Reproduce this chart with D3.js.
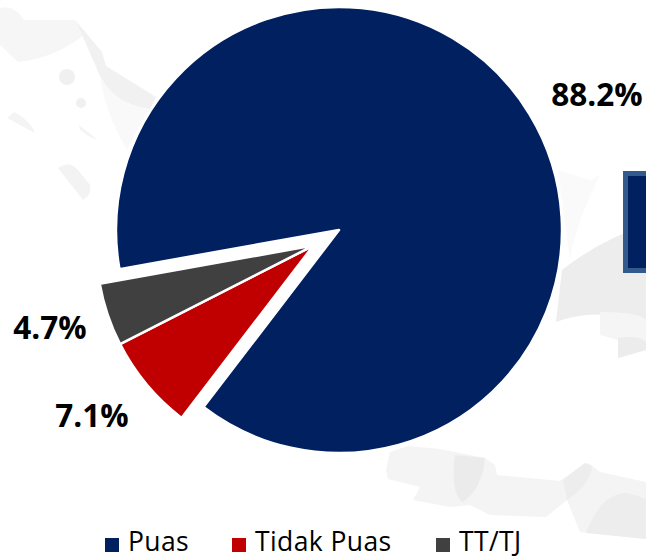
<!DOCTYPE html>
<html>
<head>
<meta charset="utf-8">
<script src="https://cdn.jsdelivr.net/npm/d3@7"></script>
<style>
  html, body { margin: 0; padding: 0; background: #fff; }
  svg { display: block; }
  text { font-family: "Open Sans", sans-serif; fill: #000; }
</style>
</head>
<body>
<script>
// chart data
var categories = ["Puas", "Tidak Puas", "TT/TJ"];
var values = [88.2, 7.1, 4.7];
var labels = ["88.2%", "7.1%", "4.7%"];
var colors = ["#002060", "#C00000", "#404040"];

var w = 646;
var h = 559;

var svg = d3.select("body")
    .append("svg")
    .attr("width", w)
    .attr("height", h);

// faint map behind the chart
var mapShapes = [
    ["M0,8 Q14,4 24,20 L75,20 L84,35 Q55,58 18,62 L0,45 Z", "#f6f6f6"],
    ["M76,21 L102,52 L106,66 L156,97 L150,109 Q115,105 100,76 Z", "#f1f1f1"],
    ["M82,36 L100,76 Q104,110 127,150 L140,125 L150,109 Q115,105 100,76 Z", "#f9f9f9"],
    ["M7,118 L14,112 Q30,120 35,133 Z", "#f4f4f4"],
    ["M79,125 L98,140 L90,137 L80,130 Z", "#f4f4f4"],
    ["M58,168 Q70,160 78,170 L90,185 Q92,195 83,200 Z", "#f3f3f3"],
    ["M390,452 L408,446 L440,449 L485,458 L495,465 L497,475 L560,481 L585,463 L590,464 L600,472 L646,482 L646,539 L580,532 L567,500 L546,517 L490,515 L470,505 L450,507 L413,500 L420,487 L388,479 L386,470 Z", "#f4f4f4"],
    ["M455,455 L485,458 Q482,490 462,502 Q450,490 455,455 Z", "#ebebeb"],
    ["M563,480 L585,463 L592,466 Q590,485 567,500 Z", "#ededed"],
    ["M586,533 Q600,495 625,493 Q640,495 646,500 L646,539 Z", "#ededed"],
    ["M562,270 Q600,240 646,225 L646,326 Q600,305 556,322 Z", "#ededed"],
    ["M558,170 L590,180 L600,175 Q575,225 570,260 Q565,225 558,170 Z", "#fafafa"],
    ["M600,312 Q640,312 646,320 L646,350 L618,358 L618,340 L600,335 Z", "#f5f5f5"],
    ["M618,338 Q640,335 646,342 L646,350 L618,358 Z", "#ececec"]
];

svg.selectAll("path.map")
    .data(mapShapes)
    .enter()
    .append("path")
    .attr("class", "map")
    .attr("d", function(d) { return d[0]; })
    .attr("fill", function(d) { return d[1]; });

svg.selectAll("circle.map")
    .data([[67, 77, 8], [81, 103, 5]])
    .enter()
    .append("circle")
    .attr("class", "map")
    .attr("cx", function(d) { return d[0]; })
    .attr("cy", function(d) { return d[1]; })
    .attr("r", function(d) { return d[2]; })
    .attr("fill", "#f0f0f0");

// box cut off at the right edge
svg.append("rect")
    .attr("x", 625.5)
    .attr("y", 173.5)
    .attr("width", 40)
    .attr("height", 97)
    .attr("fill", "#002060")
    .attr("stroke", "#335a8c")
    .attr("stroke-width", 5);

// pie, the two small slices pulled out together
var cx = 339;
var cy = 230;
var startAngle = 259.9 * Math.PI / 180;

var pie = d3.pie()
    .value(function(d) { return d; })
    .sort(null)
    .startAngle(startAngle)
    .endAngle(startAngle + 2 * Math.PI);

var slices = pie(values);
var pulled = (slices[1].startAngle + slices[2].endAngle) / 2;
var pullDist = 30;

var bigArc = d3.arc().innerRadius(0).outerRadius(223);
var smallArc = d3.arc().innerRadius(0).outerRadius(217);

svg.selectAll("path.slice")
    .data(slices)
    .enter()
    .append("path")
    .attr("class", "slice")
    .attr("d", function(d, i) {
        return i == 0 ? bigArc(d) : smallArc(d);
    })
    .attr("transform", function(d, i) {
        if (i == 0) return "translate(" + cx + "," + cy + ")";
        var x = cx + Math.sin(pulled) * pullDist;
        var y = cy - Math.cos(pulled) * pullDist;
        return "translate(" + x + "," + y + ")";
    })
    .attr("fill", function(d, i) { return colors[i]; })
    .attr("stroke", "#fff")
    .attr("stroke-width", 2.5)
    .attr("stroke-linejoin", "round");

// value labels
var labelPos = [[597, 106], [92, 427], [50, 339]];

svg.selectAll("text.value")
    .data(labels)
    .enter()
    .append("text")
    .attr("class", "value")
    .text(function(d) { return d; })
    .attr("x", function(d, i) { return labelPos[i][0]; })
    .attr("y", function(d, i) { return labelPos[i][1]; })
    .attr("text-anchor", "middle")
    .attr("font-size", "31.5px")
    .attr("font-weight", 700);

// legend
var legendX = [105, 232, 436];

svg.selectAll("rect.swatch")
    .data(categories)
    .enter()
    .append("rect")
    .attr("class", "swatch")
    .attr("x", function(d, i) { return legendX[i]; })
    .attr("y", 538)
    .attr("width", 14)
    .attr("height", 14)
    .attr("fill", function(d, i) { return colors[i]; });

// baseline kept high enough that the descenders stay inside the picture
svg.selectAll("text.legend")
    .data(categories)
    .enter()
    .append("text")
    .attr("class", "legend")
    .text(function(d) { return d; })
    .attr("x", function(d, i) { return legendX[i] + 23; })
    .attr("y", 551)
    .attr("font-size", "26.5px")
    .attr("letter-spacing", "0.4px");
</script>
</body>
</html>
